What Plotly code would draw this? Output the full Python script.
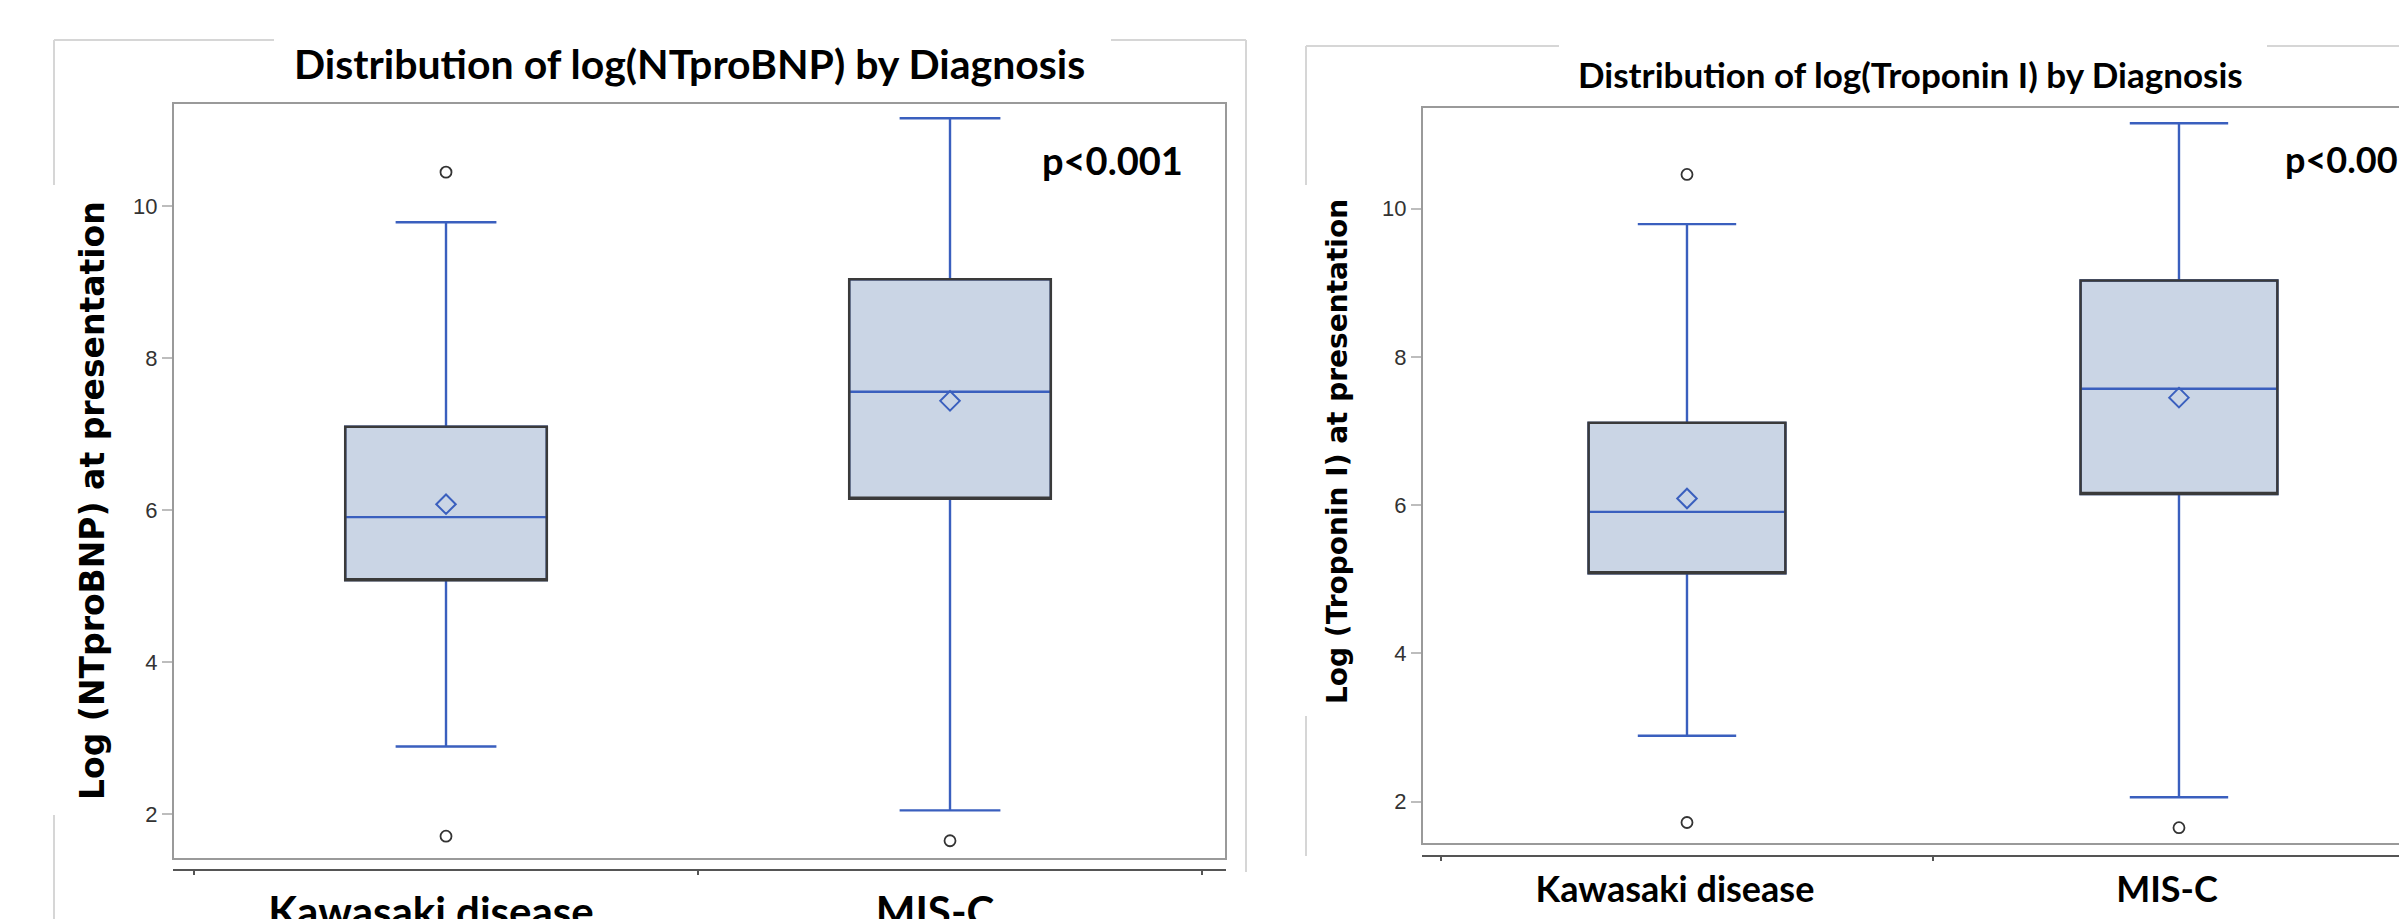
import plotly.graph_objects as go

# ---------------- data ----------------
categories = ["Kawasaki disease", "MIS-C"]

# Left panel: log(NTproBNP)
bnp_lowerfence = [2.89, 2.05]
bnp_q1 = [5.08, 6.15]
bnp_median = [5.91, 7.56]
bnp_q3 = [7.10, 9.04]
bnp_upperfence = [9.79, 11.16]
bnp_mean = [6.08, 7.44]
bnp_outlier_cat = ["Kawasaki disease", "Kawasaki disease", "MIS-C"]
bnp_outlier_val = [10.45, 1.71, 1.65]

# Right panel: log(Troponin I)
tnl_lowerfence = [2.89, 2.06]
tnl_q1 = [5.08, 6.15]
tnl_median = [5.91, 7.57]
tnl_q3 = [7.11, 9.03]
tnl_upperfence = [9.79, 11.15]
tnl_mean = [6.09, 7.45]
tnl_outlier_cat = ["Kawasaki disease", "Kawasaki disease", "MIS-C"]
tnl_outlier_val = [10.46, 1.72, 1.65]

y_ticks = [2, 4, 6, 8, 10]

# ---------------- style ----------------
W, H = 2399, 919
BLUE = "#3A5FBE"
FILL = "#CAD5E5"
BOXEDGE = "#3a3a3a"
TITLE_FONT = "Lato"
TICK_FONT = "Liberation Sans Narrow, Liberation Sans, Arial"
YTITLE_FONT = "DejaVu Sans"


def px(x):
    return x / W


def py(y):
    return 1 - y / H


fig = go.Figure()


def add_panel(xa, ya, lf, q1, med, q3, uf, mean, oc, ov, dia_size):
    fig.add_trace(go.Box(
        x=categories, q1=q1, median=med, q3=q3, lowerfence=lf, upperfence=uf,
        fillcolor=FILL, line=dict(color=BLUE, width=2.4), width=0.4,
        whiskerwidth=0.5, boxpoints=False, xaxis=xa, yaxis=ya,
        showlegend=False, hoverinfo="skip"))
    # dark outline of the box itself
    fig.add_trace(go.Box(
        x=categories, q1=q1, median=q1, q3=q3, lowerfence=q1, upperfence=q3,
        fillcolor="rgba(0,0,0,0)", line=dict(color=BOXEDGE, width=2.5), width=0.4,
        whiskerwidth=0, boxpoints=False, xaxis=xa, yaxis=ya,
        showlegend=False, hoverinfo="skip"))
    fig.add_trace(go.Scatter(
        x=categories, y=mean, mode="markers", xaxis=xa, yaxis=ya,
        marker=dict(symbol="diamond-open", size=dia_size, color=BLUE,
                    line=dict(color=BLUE, width=2)),
        showlegend=False))
    fig.add_trace(go.Scatter(
        x=oc, y=ov, mode="markers", xaxis=xa, yaxis=ya,
        marker=dict(symbol="circle-open", size=11, color="#333333",
                    line=dict(color="#333333", width=1.8)),
        showlegend=False))


add_panel("x", "y", bnp_lowerfence, bnp_q1, bnp_median, bnp_q3, bnp_upperfence,
          bnp_mean, bnp_outlier_cat, bnp_outlier_val, 15)
add_panel("x2", "y2", tnl_lowerfence, tnl_q1, tnl_median, tnl_q3, tnl_upperfence,
          tnl_mean, tnl_outlier_cat, tnl_outlier_val, 15)

xcommon = dict(type="category", categoryorder="array", categoryarray=categories,
               anchor="free", showline=True, linecolor="#555555", linewidth=2,
               ticks="outside", tickson="boundaries", ticklen=4, tickcolor="#555555",
               tickwidth=2, showgrid=False, zeroline=False, automargin=False)
ycommon = dict(tickvals=y_ticks, ticks="outside", ticklen=10, tickwidth=2,
               tickcolor="#bdbdbd", showline=False, showgrid=False, zeroline=False,
               automargin=False,
               tickfont=dict(family=TICK_FONT, size=22, color="#333333"))

fig.update_layout(
    template="none",
    width=W, height=H, margin=dict(l=0, r=0, t=0, b=0, pad=0),
    paper_bgcolor="white", plot_bgcolor="white", boxmode="overlay",
    xaxis=dict(**xcommon, domain=[px(173), px(1226)], position=py(870),
               range=[-0.5417, 1.5476],
               tickfont=dict(family=TITLE_FONT, size=42, color="black", weight="bold"),
               ticklabelstandoff=6, ticklabelshift=-15),
    yaxis=dict(**ycommon, anchor="x", domain=[py(859), py(103)], range=[1.41, 11.36]),
    xaxis2=dict(**xcommon, domain=[px(1422), 1.0], position=py(856),
                range=[-0.5386, 1.4472],
                tickfont=dict(family=TITLE_FONT, size=36, color="black", weight="bold"),
                ticklabelstandoff=2, ticklabelshift=-12),
    yaxis2=dict(**ycommon, anchor="x2", domain=[py(844), py(107)], range=[1.43, 11.37]),
)

shapes = []
# plot frames
shapes.append(dict(type="rect", xref="x domain", yref="y domain", x0=0, x1=1, y0=0, y1=1,
                   line=dict(color="#9a9a9a", width=2)))
shapes.append(dict(type="rect", xref="x2 domain", yref="y2 domain", x0=0, x1=1.1, y0=0, y1=1,
                   line=dict(color="#9a9a9a", width=2)))
# outer (slide) frames, broken by the titles
outer = [
    (54, 40, 274, 40), (1111, 40, 1246, 40), (54, 40, 54, 185), (54, 815, 54, 919),
    (1246, 40, 1246, 872),
    (1306, 46, 1559, 46), (2267, 46, 2399, 46), (1306, 46, 1306, 185), (1306, 716, 1306, 856),
]
for x0, y0, x1, y1 in outer:
    shapes.append(dict(type="line", xref="paper", yref="paper", x0=px(x0), y0=py(y0),
                       x1=px(x1), y1=py(y1), line=dict(color="#d6d6d6", width=2)))
fig.update_layout(shapes=shapes)

ann = [
    dict(text="Distribution of log(NTproBNP) by Diagnosis", x=px(689), y=py(64),
         font=dict(family=TITLE_FONT, size=41, color="black", weight="bold")),
    dict(text="Distribution of log(Troponin I) by Diagnosis", x=px(1910), y=py(74),
         font=dict(family=TITLE_FONT, size=35, color="black", weight="bold")),
    dict(text="Log (NTproBNP) at presentation", x=px(93), y=py(501), textangle=-90,
         font=dict(family=YTITLE_FONT, size=33, color="black", weight="bold")),
    dict(text="Log (Troponin I) at presentation", x=px(1338), y=py(452), textangle=-90,
         font=dict(family=YTITLE_FONT, size=28, color="black", weight="bold")),
    dict(text="p<0.001", x=px(1040), y=py(160), xanchor="left",
         font=dict(family=TITLE_FONT, size=38, color="black", weight="bold")),
    dict(text="p<0.001", x=px(2283), y=py(159), xanchor="left",
         font=dict(family=TITLE_FONT, size=36, color="black", weight="bold")),
]
for a in ann:
    a.setdefault("xanchor", "center")
    a.update(xref="paper", yref="paper", yanchor="middle", showarrow=False)
fig.update_layout(annotations=ann)

fig.write_html(
    "out.html",
    config={"displayModeBar": False},
    post_script="document.body.style.margin='0';document.body.style.overflow='hidden';",
)
